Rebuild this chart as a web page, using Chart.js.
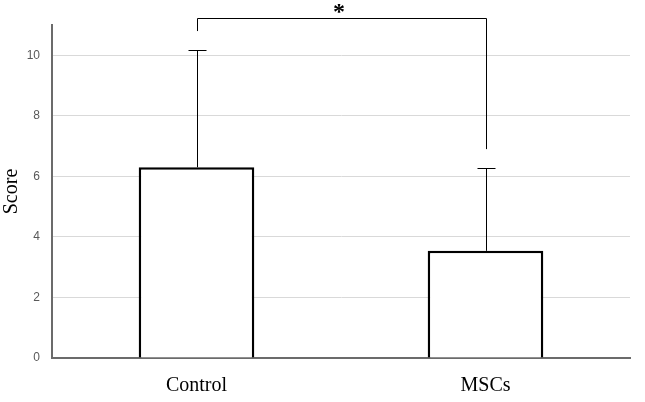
<!DOCTYPE html>
<html>
<head>
<meta charset="utf-8">
<script src="https://cdn.jsdelivr.net/npm/chart.js@4"></script>
<style>
  html, body { margin: 0; padding: 0; background: #fff; }
  #wrap { width: 645px; height: 402px; }
</style>
</head>
<body>
<div id="wrap"><canvas id="chart"></canvas></div>
<script>
// data
const groups = ['Control', 'MSCs'];
const means = [6.3, 3.54];
const sds = [3.88, 2.74];
const yTicks = [0, 2, 4, 6, 8, 10];
// significance bracket (in score units)
const bracketTop = 11.22;
const bracketLegs = [10.8, 6.9];
const bracketLabel = '*';

const errorBars = {
    id: 'errorBars',
    afterDatasetsDraw(chart) {
        const ctx = chart.ctx;
        const y = chart.scales.y;
        const meta = chart.getDatasetMeta(0);
        ctx.save();
        ctx.strokeStyle = '#000';
        ctx.lineWidth = 1;
        meta.data.forEach((bar, i) => {
            const x = Math.round(bar.x) + 0.5;
            const yTop = Math.round(y.getPixelForValue(means[i] + sds[i])) + 0.5;
            const yBar = y.getPixelForValue(means[i]);
            ctx.beginPath();
            ctx.moveTo(x, yBar);
            ctx.lineTo(x, yTop);
            ctx.moveTo(x - 9, yTop);
            ctx.lineTo(x + 9, yTop);
            ctx.stroke();
        });
        // bracket
        const x1 = Math.round(meta.data[0].x) + 0.5;
        const x2 = Math.round(meta.data[1].x) + 0.5;
        const yb = Math.round(y.getPixelForValue(bracketTop)) + 0.5;
        ctx.beginPath();
        ctx.moveTo(x1, y.getPixelForValue(bracketLegs[0]));
        ctx.lineTo(x1, yb);
        ctx.lineTo(x2, yb);
        ctx.lineTo(x2, y.getPixelForValue(bracketLegs[1]));
        ctx.stroke();
        ctx.fillStyle = '#000';
        ctx.font = 'bold 24px "Liberation Serif"';
        ctx.textAlign = 'center';
        ctx.textBaseline = 'bottom';
        ctx.fillText(bracketLabel, (x1 + x2) / 2 - 3, yb + 6);
        ctx.restore();
    }
};

new Chart(document.getElementById('chart'), {
    type: 'bar',
    data: {
        labels: groups,
        datasets: [{
            data: means,
            backgroundColor: '#fff',
            borderColor: '#000',
            borderWidth: 2.5,
            barPercentage: 0.4,
            categoryPercentage: 1
        }]
    },
    options: {
        responsive: true,
        maintainAspectRatio: false,
        animation: false,
        layout: { padding: { top: 25, right: 15, left: 0, bottom: 0 } },
        plugins: { legend: { display: false }, tooltip: { enabled: false } },
        scales: {
            x: {
                grid: { display: false },
                border: { color: '#6b6b6b', width: 2 },
                ticks: {
                    color: '#000',
                    padding: 8,
                    font: { family: 'Liberation Serif', size: 20 }
                },
                afterFit: (s) => { s.height = 44; }
            },
            y: {
                min: 0,
                max: 11,
                afterBuildTicks: (s) => { s.ticks = yTicks.map(v => ({ value: v })); },
                grid: {
                    color: (c) => c.tick && c.tick.value === 0 ? 'rgba(0,0,0,0)' : '#d9d9d9',
                    lineWidth: 1,
                    drawTicks: false
                },
                border: { color: '#6b6b6b', width: 2 },
                ticks: {
                    color: '#595959',
                    padding: 12,
                    font: { family: 'Liberation Sans', size: 12 }
                },
                title: {
                    display: true,
                    text: 'Score',
                    color: '#000',
                    padding: 0,
                    font: { family: 'Liberation Serif', size: 20 }
                },
                afterFit: (s) => { s.width = 52; }
            }
        }
    },
    plugins: [errorBars]
});
</script>
</body>
</html>
